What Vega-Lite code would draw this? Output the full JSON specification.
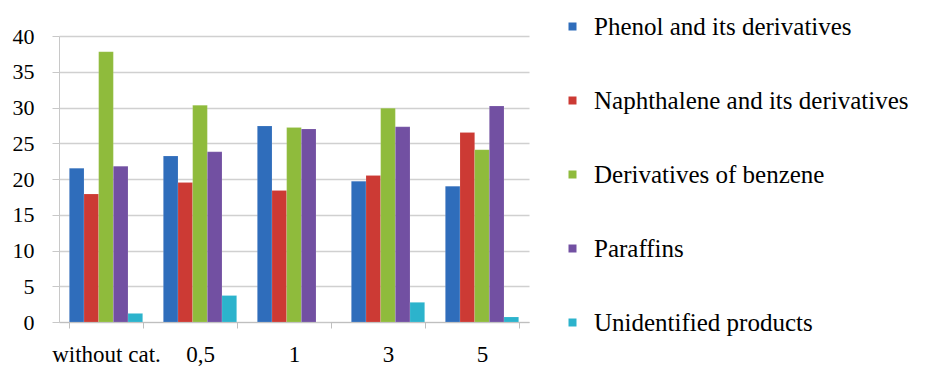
{
  "$schema": "https://vega.github.io/schema/vega-lite/v6.json",
  "width": 470,
  "height": 286,
  "autosize": {"type": "none"},
  "padding": {"left": 59, "top": 36, "right": 417, "bottom": 45},
  "background": "white",
  "config": {
    "view": {"stroke": null},
    "font": "Liberation Serif"
  },
  "data": {
    "values": [
      {"cat": "without cat.", "group": "Phenol and its derivatives", "value": 21.5},
      {"cat": "without cat.", "group": "Naphthalene and its derivatives", "value": 17.9},
      {"cat": "without cat.", "group": "Derivatives of benzene", "value": 37.8},
      {"cat": "without cat.", "group": "Paraffins", "value": 21.8},
      {"cat": "without cat.", "group": "Unidentified products", "value": 1.2},
      {"cat": "0,5", "group": "Phenol and its derivatives", "value": 23.2},
      {"cat": "0,5", "group": "Naphthalene and its derivatives", "value": 19.5},
      {"cat": "0,5", "group": "Derivatives of benzene", "value": 30.3},
      {"cat": "0,5", "group": "Paraffins", "value": 23.8},
      {"cat": "0,5", "group": "Unidentified products", "value": 3.7},
      {"cat": "1", "group": "Phenol and its derivatives", "value": 27.4},
      {"cat": "1", "group": "Naphthalene and its derivatives", "value": 18.4},
      {"cat": "1", "group": "Derivatives of benzene", "value": 27.2},
      {"cat": "1", "group": "Paraffins", "value": 27.0},
      {"cat": "1", "group": "Unidentified products", "value": 0},
      {"cat": "3", "group": "Phenol and its derivatives", "value": 19.7},
      {"cat": "3", "group": "Naphthalene and its derivatives", "value": 20.5},
      {"cat": "3", "group": "Derivatives of benzene", "value": 29.9},
      {"cat": "3", "group": "Paraffins", "value": 27.3},
      {"cat": "3", "group": "Unidentified products", "value": 2.75},
      {"cat": "5", "group": "Phenol and its derivatives", "value": 19.0},
      {"cat": "5", "group": "Naphthalene and its derivatives", "value": 26.5},
      {"cat": "5", "group": "Derivatives of benzene", "value": 24.1},
      {"cat": "5", "group": "Paraffins", "value": 30.2},
      {"cat": "5", "group": "Unidentified products", "value": 0.7}
    ]
  },
  "mark": {"type": "bar", "stroke": "#ffffff", "strokeOpacity": 0.25, "strokeWidth": 0.5},
  "encoding": {
    "x": {
      "field": "cat",
      "type": "nominal",
      "sort": ["without cat.", "0,5", "1", "3", "5"],
      "scale": {"paddingInner": 0.22, "paddingOuter": 0.11},
      "axis": {
        "title": null,
        "labelAngle": 0,
        "labelFont": "Liberation Serif",
        "labelFontSize": 23,
        "labelColor": "#000000",
        "labelPadding": 15,
        "tickBand": "extent",
        "tickSize": 6,
        "tickColor": "#bfbfbf",
        "domainColor": "#bfbfbf",
        "grid": false
      }
    },
    "xOffset": {
      "field": "group",
      "type": "nominal",
      "sort": ["Phenol and its derivatives", "Naphthalene and its derivatives", "Derivatives of benzene", "Paraffins", "Unidentified products"],
      "scale": {"paddingInner": 0, "paddingOuter": 0}
    },
    "y": {
      "field": "value",
      "type": "quantitative",
      "scale": {"domain": [0, 40], "nice": false},
      "axis": {
        "title": null,
        "values": [0, 5, 10, 15, 20, 25, 30, 35, 40],
        "labelFont": "Liberation Serif",
        "labelFontSize": 22,
        "labelColor": "#000000",
        "labelPadding": 18,
        "tickSize": 7,
        "tickColor": "#c8c8c8",
        "domainColor": "#c8c8c8",
        "gridColor": "#d0d0d0",
        "gridWidth": 1.5
      }
    },
    "color": {
      "field": "group",
      "type": "nominal",
      "sort": ["Phenol and its derivatives", "Naphthalene and its derivatives", "Derivatives of benzene", "Paraffins", "Unidentified products"],
      "scale": {
        "domain": ["Phenol and its derivatives", "Naphthalene and its derivatives", "Derivatives of benzene", "Paraffins", "Unidentified products"],
        "range": ["#2f6dbb", "#cc3a34", "#8fbb3c", "#7250a2", "#2cb3cc"]
      },
      "legend": {
        "title": null,
        "orient": "none",
        "legendX": 501,
        "legendY": -22,
        "symbolType": "square",
        "symbolSize": 64,
        "symbolStrokeWidth": 0,
        "labelFont": "Liberation Serif",
        "labelFontSize": 25,
        "labelColor": "#000000",
        "labelOffset": 9,
        "labelLimit": 420,
        "rowPadding": 48
      }
    }
  }
}
